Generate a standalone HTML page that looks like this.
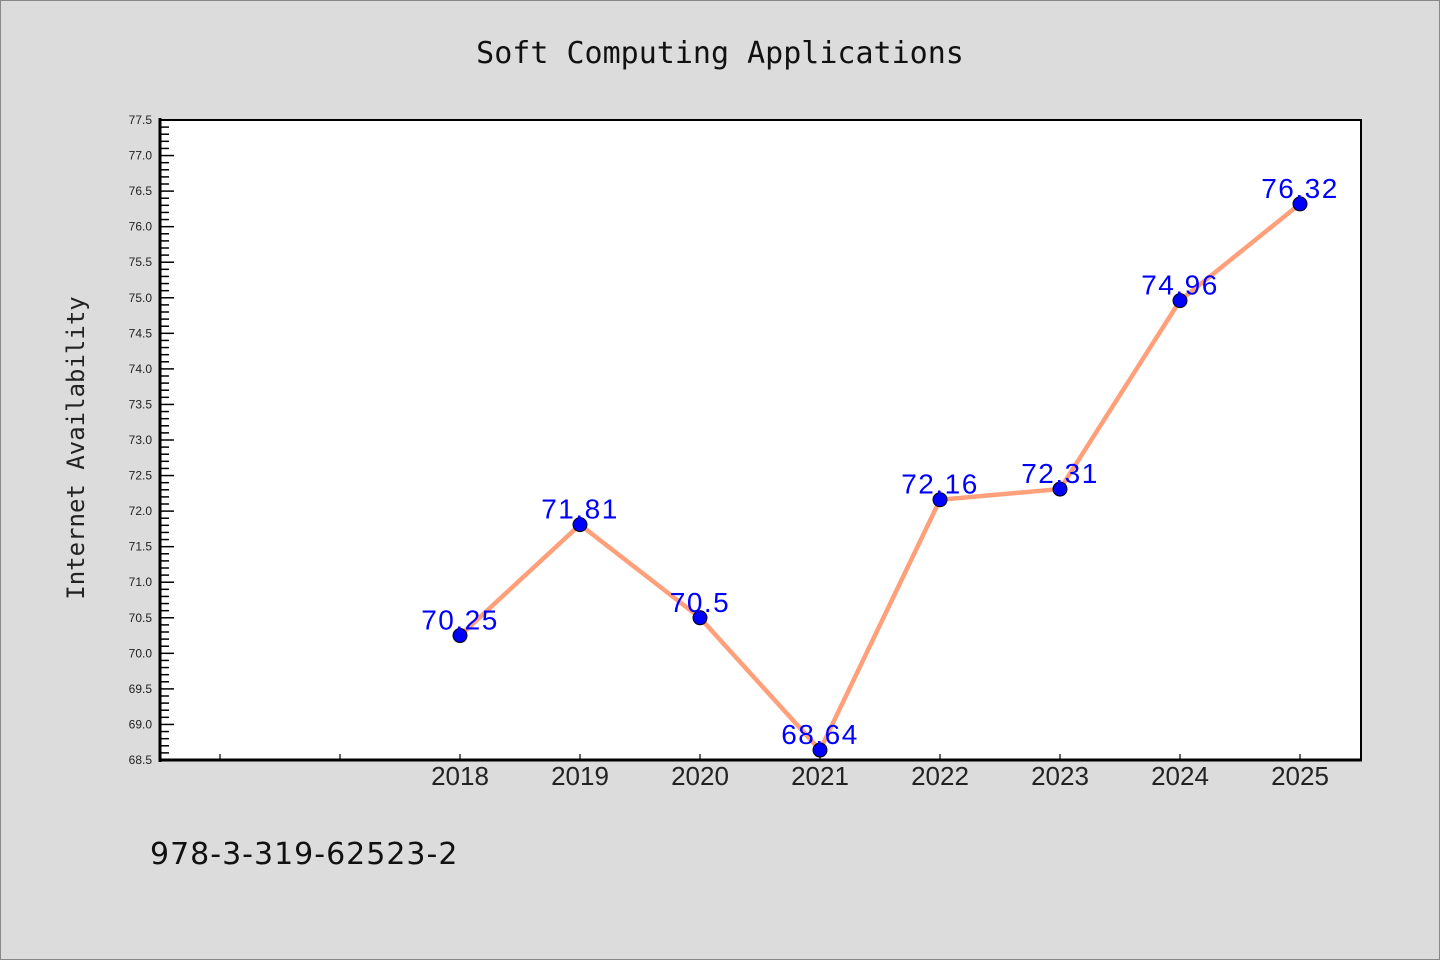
<!DOCTYPE html>
<html><head><meta charset="utf-8"><style>
html,body{margin:0;padding:0;background:#dcdcdc;}
svg{display:block;font-family:"Liberation Sans","DejaVu Sans",sans-serif;}
</style></head><body>
<svg id="chart" width="1440" height="960" xmlns="http://www.w3.org/2000/svg">
<rect x="0.5" y="0.5" width="1439" height="959" fill="#dcdcdc" stroke="#888"/>
<text x="720" y="63" text-anchor="middle" font-size="30" font-family="DejaVu Sans Mono, Liberation Mono, monospace" fill="#111">Soft Computing Applications</text>
<rect x="160" y="120" width="1201" height="640" fill="#fff" stroke="#000" stroke-width="2"/>
<text transform="translate(84,448) rotate(-90)" text-anchor="middle" font-size="24" font-family="DejaVu Sans Mono, Liberation Mono, monospace" fill="#222">Internet Availability</text>
<text x="150" y="864" font-size="30" letter-spacing="1" font-family="DejaVu Sans, Liberation Sans, sans-serif" fill="#111">978-3-319-62523-2</text>
<g id="yaxis"></g>
<g id="xaxis"></g>
<g id="series"></g>
<line x1="160" y1="118" x2="160" y2="762" stroke="#000" stroke-width="3"/>
<line x1="159" y1="760" x2="1362" y2="760" stroke="#000" stroke-width="3"/>
</svg>
<script>
const categories = ["", "", "2018", "2019", "2020", "2021", "2022", "2023", "2024", "2025"];
const values = [null, null, 70.25, 71.81, 70.5, 68.64, 72.16, 72.31, 74.96, 76.32];
const valueLabels = ["", "", "70.25", "71.81", "70.5", "68.64", "72.16", "72.31", "74.96", "76.32"];
const yTickLabels = ["68.5","69.0","69.5","70.0","70.5","71.0","71.5","72.0","72.5","73.0","73.5","74.0","74.5","75.0","75.5","76.0","76.5","77.0","77.5"];
const yMin = 68.5, yMax = 77.5;
const L = 160, R = 1360, T = 120, B = 760;
const NS = "http://www.w3.org/2000/svg";
function yS(v){ return B - (v - yMin) / (yMax - yMin) * (B - T); }
function xS(i){ return L + (R - L) / categories.length * (i + 0.5); }
function mk(tag, attrs, parent){ const e = document.createElementNS(NS, tag); for (const k in attrs) e.setAttribute(k, attrs[k]); parent.appendChild(e); return e; }
const ya = document.getElementById('yaxis');
for (let v = yMin; v <= yMax + 1e-9; v += 0.1) {
  const major = Math.abs(v * 2 - Math.round(v * 2)) < 1e-6;
  const t = mk('line', {x1: L, x2: L + (major ? 14 : 9), y1: yS(v), y2: yS(v), stroke: '#000', 'stroke-width': 1.5}, ya);
  
  
}
yTickLabels.forEach(s => {
  const t = mk('text', {x: 152, y: yS(parseFloat(s)) + 4, 'text-anchor': 'end', 'font-size': 12, fill: '#222'}, ya);
  t.textContent = s;
  
  
});
const xa = document.getElementById('xaxis');
categories.forEach((c, i) => {
  const t = mk('line', {x1: xS(i), x2: xS(i), y1: B, y2: B - 6, stroke: '#000', 'stroke-width': 1.2}, xa);
  
  
  if (c) {
    const l = mk('text', {x: xS(i), y: 785, 'text-anchor': 'middle', 'font-size': 26, fill: '#222'}, xa);
    l.textContent = c;
    
    
  }
});
const sg = document.getElementById('series');
const pts = [];
values.forEach((v, i) => { if (v !== null) pts.push([xS(i), yS(v), i]); });
const line = mk('polyline', {points: pts.map(p => p[0] + ',' + p[1]).join(' '), fill: 'none', stroke: '#FFA07A', 'stroke-width': 4.5, 'stroke-linejoin': 'round'}, sg);


pts.forEach(p => {
  const c = mk('circle', {cx: p[0], cy: p[1], r: 7, fill: '#0000ff', stroke: '#000', 'stroke-width': 1}, sg);
  
  
});
pts.forEach(p => {
  const t = mk('text', {x: p[0], y: p[1] - 6, 'text-anchor': 'middle', 'font-size': 28, 'letter-spacing': 1.5, fill: '#0000ff'}, sg);
  t.textContent = valueLabels[p[2]];
  
  
});
</script>
</body></html>
